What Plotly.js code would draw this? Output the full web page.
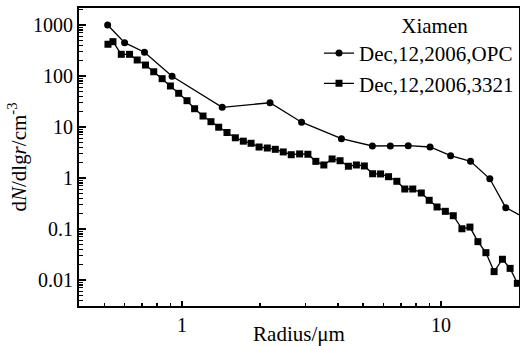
<!DOCTYPE html>
<html>
<head>
<meta charset="utf-8">
<script src="https://cdn.plot.ly/plotly-3.0.1.min.js"></script>
<style>html,body{margin:0;padding:0;background:#fff;}#chart{width:520px;height:346px;}</style>
</head>
<body>
<div id="chart"></div>
<script>
// Series: OPC (circles)
const radiusOPC = [0.516, 0.600, 0.716, 0.915, 1.429, 2.186, 2.894, 4.125, 5.43, 6.37, 7.47, 9.07, 10.89, 13.0, 15.43, 17.78, 20.9];
const dndlgrOPC = [1000, 450, 292, 98.6, 24.3, 29.9, 12.4, 5.9, 4.24, 4.24, 4.30, 4.05, 2.74, 2.12, 0.964, 0.262, 0.168];

// Series: 3321 (squares)
const radius3321 = [0.5175, 0.541, 0.5826, 0.627, 0.671, 0.7225, 0.7774, 0.8377, 0.9016, 0.9703,
  1.045, 1.118, 1.205, 1.293, 1.385, 1.491, 1.606, 1.724, 1.847, 1.983,
  2.134, 2.291, 2.459, 2.640, 2.844, 3.061, 3.285, 3.527, 3.796, 4.074,
  4.388, 4.711, 5.057, 5.443, 5.842, 6.271, 6.751, 7.244, 7.777, 8.390,
  9.00, 9.65, 10.39, 11.15, 12.04, 12.93, 13.88, 14.90, 16.03, 17.26,
  18.48, 19.71];
const dndlgr3321 = [419, 471, 266, 266, 206, 164, 121, 88.5, 63.7, 45.8,
  32.8, 22.8, 16.4, 12.7, 9.9, 7.8, 6.14, 5.27, 4.79, 4.05,
  3.87, 3.65, 3.24, 2.86, 2.96, 2.92, 2.12, 1.80, 2.36, 2.18,
  1.70, 1.80, 1.72, 1.21, 1.20, 1.06, 0.861, 0.608, 0.608, 0.508,
  0.365, 0.270, 0.222, 0.182, 0.101, 0.109, 0.0564, 0.0343, 0.0146, 0.0255,
  0.0169, 0.0086];

const seriesNames = ['Dec,12,2006,OPC', 'Dec,12,2006,3321'];
const legendTitle = 'Xiamen';
const yTickVals = [0.01, 0.1, 1, 10, 100, 1000];
const yTickText = ['0.01', '0.1', '1', '10', '100', '1000'];
const xTickVals = [1, 10];
const xTickText = ['1', '10'];

const serif = 'Liberation Serif';

const traces = [
  {
    x: radiusOPC, y: dndlgrOPC, name: seriesNames[0], type: 'scatter', mode: 'lines+markers',
    line: {color: '#000', width: 1.3},
    marker: {symbol: 'circle', size: 7, color: '#000'}
  },
  {
    x: radius3321, y: dndlgr3321, name: seriesNames[1], type: 'scatter', mode: 'lines+markers',
    line: {color: '#000', width: 1.3},
    marker: {symbol: 'square', size: 7, color: '#000'}
  }
];

const layout = {
  width: 520, height: 346,
  margin: {l: 79, r: 1, t: 8, b: 40},
  paper_bgcolor: '#fff', plot_bgcolor: '#fff',
  font: {family: serif, color: '#000', size: 19},
  showlegend: true,
  legend: {
    x: 1, xanchor: 'right', y: 1.008, yanchor: 'top',
    bgcolor: 'rgba(0,0,0,0)', borderwidth: 0,
    font: {family: serif, size: 21, color: '#000'},
    title: {text: '\u00a0\u00a0\u00a0\u00a0\u00a0\u00a0' + legendTitle, side: 'top center', font: {family: serif, size: 21, color: '#000'}},
    tracegroupgap: 0, itemwidth: 30
  },
  xaxis: {
    type: 'log', range: [Math.log10(0.4), Math.log10(20)],
    tickvals: xTickVals, ticktext: xTickText,
    ticks: 'inside', ticklen: 5, tickwidth: 1.5, tickcolor: '#000',
    minor: {ticks: 'inside', ticklen: 3, tickwidth: 1.2, tickcolor: '#000', dtick: 'D1', showgrid: false},
    showline: true, linecolor: '#000', linewidth: 2, mirror: true,
    showgrid: false, zeroline: false,
    tickfont: {family: serif, size: 20, color: '#000'},
    title: {text: 'Radius/μm', font: {family: serif, size: 21, color: '#000'}, standoff: 3},
    automargin: false
  },
  yaxis: {
    type: 'log', range: [-2.51, 3.333],
    tickvals: yTickVals, ticktext: yTickText,
    ticks: 'inside', ticklen: 7, tickwidth: 1.5, tickcolor: '#000',
    minor: {ticks: 'inside', ticklen: 4, tickwidth: 1.2, tickcolor: '#000', dtick: 'D1', showgrid: false},
    showline: true, linecolor: '#000', linewidth: 2, mirror: true,
    showgrid: false, zeroline: false,
    tickfont: {family: serif, size: 20, color: '#000'},
    title: {text: 'd<i>N</i>/dlg<i>r</i>/cm<sup>-3</sup>', font: {family: serif, size: 21, color: '#000'}, standoff: 1},
    automargin: false
  }
};

Plotly.newPlot('chart', traces, layout, {displayModeBar: false, staticPlot: true});
</script>
</body>
</html>
